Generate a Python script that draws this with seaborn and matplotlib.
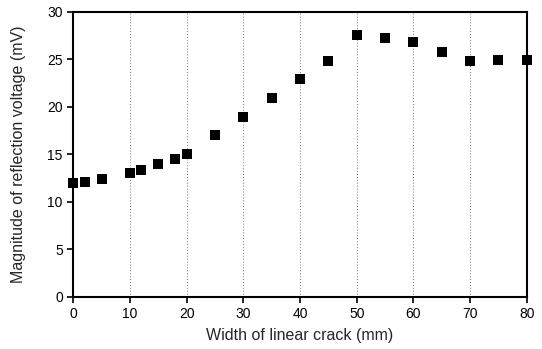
import seaborn as sns
import matplotlib.pyplot as plt
import pandas as pd

# values
crackWidth = [0, 2, 5, 10, 12, 15, 18, 20, 25, 30, 35, 40, 45, 50, 55, 60, 65, 70, 75, 80]
reflVoltage = [12.0, 12.1, 12.4, 13.0, 13.4, 14.0, 14.5, 15.0, 17.0, 18.9, 20.9, 22.9,
               24.8, 27.6, 27.2, 26.8, 25.8, 24.8, 24.9, 24.9]
xTicks = [0, 10, 20, 30, 40, 50, 60, 70, 80]
yTicks = [0, 5, 10, 15, 20, 25, 30]

df = pd.DataFrame({"width": crackWidth, "voltage": reflVoltage})

sns.set_style("ticks")
plt.rcParams['font.family'] = ['Liberation Sans', 'DejaVu Sans']

fig = plt.figure(figsize=(5.42, 3.49), dpi=100)
ax = fig.add_axes([0.135, 0.149, 0.837, 0.817])

# dotted vertical grid
for xv in xTicks[1:-1]:
    ax.axvline(xv, color='#777777', lw=0.7, ls=(0, (1, 2)), zorder=0)

sns.scatterplot(data=df, x="width", y="voltage", marker='s', s=45, color='black',
                edgecolor='black', linewidth=0, ax=ax, clip_on=False, zorder=3)

ax.set_xlim(0, 80)
ax.set_ylim(0, 30)
ax.set_xticks(xTicks)
ax.set_yticks(yTicks)
ax.tick_params(direction='out', length=4, width=1.2, labelsize=10, colors='black')
for sp in ax.spines.values():
    sp.set_linewidth(1.5)
    sp.set_color('black')

ax.set_xlabel("Width of linear crack (mm)", fontsize=11.5, labelpad=5)
ax.set_ylabel("Magnitude of reflection voltage (mV)", fontsize=11.5, labelpad=15)

fig.savefig("out.png", dpi=100)
